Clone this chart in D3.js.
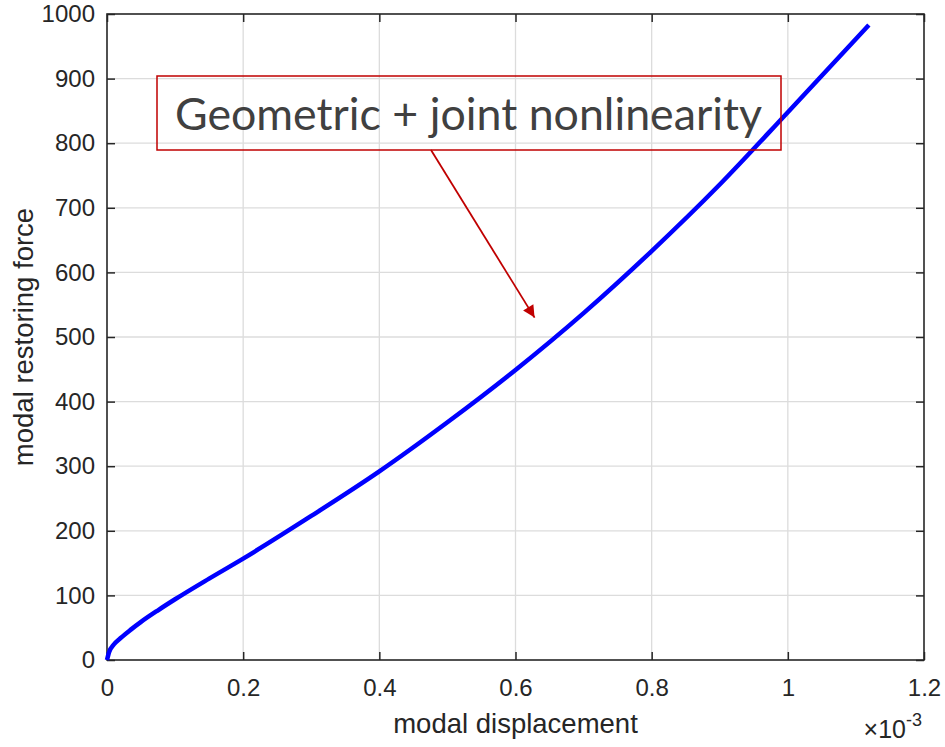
<!DOCTYPE html>
<html lang="en">
<head>
    <meta charset="UTF-8">
    <title>Modal restoring force</title>
    <script src="https://cdnjs.cloudflare.com/ajax/libs/d3/7.8.5/d3.min.js"></script>
    <style>
        body { margin: 0; background: #fff; }
        svg text { font-family: "Liberation Sans", Arial, sans-serif; fill: #262626; }
    </style>
</head>
<body>
    <script>
        // displacement (x 1e-3) and restoring force
        const dispValues = [0, 0.003, 0.01, 0.02, 0.035, 0.05, 0.075, 0.1, 0.15, 0.2, 0.3, 0.4, 0.5, 0.6, 0.7, 0.8, 0.9, 1.0, 1.119];
        const forceValues = [0, 12, 24, 34, 47, 59, 77, 94, 126, 157, 223, 292, 368, 449, 537, 633, 736, 848, 983];
        const xTicks = [0, 0.2, 0.4, 0.6, 0.8, 1, 1.2];
        const yTicks = [0, 100, 200, 300, 400, 500, 600, 700, 800, 900, 1000];
        const annotationText = 'Geometric + joint nonlinearity';
        const annotationAnchor = [0.628, 530];  // arrow tip in data units

        const w = 945;
        const h = 747;
        const margin = { left: 107, right: 21, top: 14, bottom: 87 };

        const xScale = d3.scaleLinear()
            .domain([0, 1.2])
            .range([margin.left, w - margin.right]);

        const yScale = d3.scaleLinear()
            .domain([0, 1000])
            .range([h - margin.bottom, margin.top]);

        const svg = d3.select('body')
            .append('svg')
            .attr('width', w)
            .attr('height', h);

        svg.append('defs').append('marker')
            .attr('id', 'arrow')
            .attr('viewBox', '0 0 10 10')
            .attr('refX', 10)
            .attr('refY', 5)
            .attr('markerWidth', 13)
            .attr('markerHeight', 12)
            .attr('markerUnits', 'userSpaceOnUse')
            .attr('orient', 'auto')
            .append('path')
            .attr('d', 'M0,0 L10,5 L0,10 z')
            .attr('fill', '#c00000');

        // grid
        svg.append('g')
            .selectAll('line')
            .data(xTicks.slice(1, -1))
            .enter()
            .append('line')
            .attr('x1', d => xScale(d))
            .attr('x2', d => xScale(d))
            .attr('y1', yScale(0))
            .attr('y2', yScale(1000))
            .attr('stroke', '#dcdcdc')
            .attr('stroke-width', 1.3);

        svg.append('g')
            .selectAll('line')
            .data(yTicks.slice(1, -1))
            .enter()
            .append('line')
            .attr('x1', xScale(0))
            .attr('x2', xScale(1.2))
            .attr('y1', d => yScale(d))
            .attr('y2', d => yScale(d))
            .attr('stroke', '#dcdcdc')
            .attr('stroke-width', 1.3);

        // Create Axis
        const tick = 8;
        const axisStyle = g => {
            g.select('.domain').remove();
            g.selectAll('.tick line').attr('stroke', '#262626').attr('stroke-width', 1.5);
            g.selectAll('.tick text')
                .attr('font-size', 24)
                .attr('fill', '#262626')
                .attr('font-family', '"Liberation Sans", Arial, sans-serif');
        };

        svg.append('g')
            .attr('id', 'x-axis')
            .attr('transform', `translate(0, ${yScale(0)})`)
            .call(d3.axisBottom(xScale).tickValues(xTicks).tickFormat(d3.format('')).tickSizeInner(-tick).tickPadding(19))
            .call(axisStyle);

        svg.append('g')
            .attr('transform', `translate(0, ${yScale(1000)})`)
            .call(d3.axisTop(xScale).tickValues(xTicks).tickFormat('').tickSizeInner(-tick))
            .call(axisStyle);

        svg.append('g')
            .attr('id', 'y-axis')
            .attr('transform', `translate(${xScale(0)}, 0)`)
            .call(d3.axisLeft(yScale).tickValues(yTicks).tickFormat(d3.format('d')).tickSizeInner(-tick).tickPadding(12))
            .call(axisStyle);

        svg.append('g')
            .attr('transform', `translate(${xScale(1.2)}, 0)`)
            .call(d3.axisRight(yScale).tickValues(yTicks).tickFormat('').tickSizeInner(-tick))
            .call(axisStyle);

        svg.append('rect')
            .attr('x', xScale(0))
            .attr('y', yScale(1000))
            .attr('width', xScale(1.2) - xScale(0))
            .attr('height', yScale(0) - yScale(1000))
            .attr('fill', 'none')
            .attr('stroke', '#262626')
            .attr('stroke-width', 1.6);

        // curve
        const line = d3.line()
            .x(d => xScale(d[0]))
            .y(d => yScale(d[1]))
            .curve(d3.curveMonotoneX);

        svg.append('path')
            .datum(dispValues.map((d, i) => [d, forceValues[i]]))
            .attr('d', line)
            .attr('fill', 'none')
            .attr('stroke', '#0000ff')
            .attr('stroke-width', 4.5);

        // labels
        svg.append('text')
            .attr('x', (xScale(0) + xScale(1.2)) / 2)
            .attr('y', 733)
            .attr('text-anchor', 'middle')
            .attr('font-size', 27.5)
            .text('modal displacement');

        svg.append('text')
            .attr('transform', `translate(33, ${(yScale(0) + yScale(1000)) / 2}) rotate(-90)`)
            .attr('text-anchor', 'middle')
            .attr('font-size', 27.5)
            .text('modal restoring force');

        const expo = svg.append('text')
            .attr('x', 922)
            .attr('y', 738)
            .attr('text-anchor', 'end')
            .attr('font-size', 25);
        expo.append('tspan').text('\u00d7');
        expo.append('tspan').text('10');
        expo.append('tspan').attr('dy', -12).attr('font-size', 18).text('-3');

        // annotation
        svg.append('line')
            .attr('x1', 431)
            .attr('y1', 150)
            .attr('x2', xScale(annotationAnchor[0]))
            .attr('y2', yScale(annotationAnchor[1]))
            .attr('stroke', '#c00000')
            .attr('stroke-width', 1.8)
            .attr('marker-end', 'url(#arrow)');

        svg.append('rect')
            .attr('x', 157)
            .attr('y', 76)
            .attr('width', 624)
            .attr('height', 74)
            .attr('fill', 'none')
            .attr('stroke', '#c00000')
            .attr('stroke-width', 1.5);

        svg.append('text')
            .attr('x', 175)
            .attr('y', 130)
            .attr('font-size', 44)
            .style('fill', '#404040')
            .style('font-family', 'Lato, "Open Sans", sans-serif')
            .attr('textLength', 587)
            .attr('lengthAdjust', 'spacingAndGlyphs')
            .text(annotationText);
    </script>
</body>
</html>
